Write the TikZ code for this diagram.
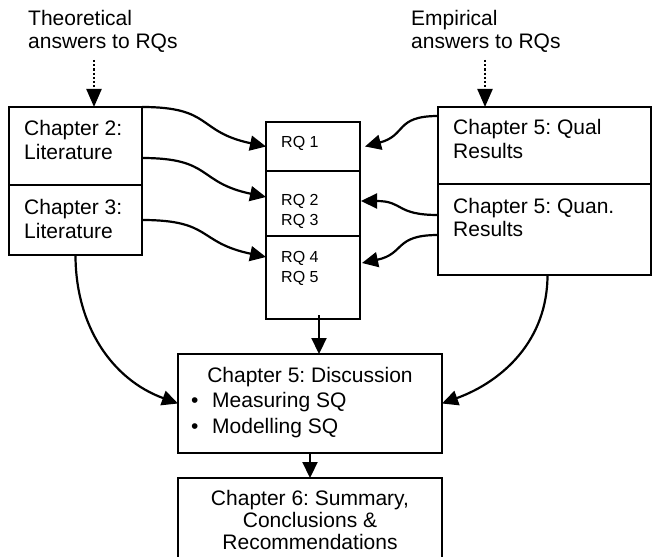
\documentclass[tikz,border=0pt]{standalone}
\usepackage{fontspec}
\setmainfont{Liberation Sans}
\usetikzlibrary{arrows.meta,calc}
\frenchspacing
\begin{document}
\begin{tikzpicture}[x=1pt,y=-1pt,
  box/.style={draw, line width=2.3pt, inner sep=0pt, outer sep=0pt, anchor=north west},
  txt/.style={inner sep=0pt, anchor=base west, font=\fontsize{21}{23}\selectfont},
  ctxt/.style={inner sep=0pt, anchor=base, font=\fontsize{21}{23}\selectfont},
  rqtxt/.style={inner sep=0pt, anchor=base west, font=\fontsize{16}{19}\selectfont},
  arr/.style={line width=2.2pt, -{Triangle[length=16pt,width=15pt]}},
  dotarr/.style={line width=2.2pt, dotted, -{Triangle[length=18pt,width=15pt]}}]
\clip (0,0) rectangle (652,556);
% boxes
\node[box, minimum width=133pt, minimum height=78pt] (ch2) at (9,107) {};
\node[box, minimum width=133pt, minimum height=70pt] (ch3) at (9,185) {};
\node[box, minimum width=94pt, minimum height=49pt] (rq1) at (266,122) {};
\node[box, minimum width=94pt, minimum height=65pt] (rq23) at (266,171) {};
\node[box, minimum width=94pt, minimum height=83pt] (rq45) at (266,236) {};
\node[box, minimum width=213pt, minimum height=77pt] (qual) at (438,107) {};
\node[box, minimum width=213pt, minimum height=91pt] (quan) at (438,184) {};
\node[box, minimum width=264pt, minimum height=99pt] (disc) at (178,354) {};
\node[box, minimum width=264pt, minimum height=90pt] (summ) at (178,478) {};
% texts
\node[txt] (th1) at (28,26) {Theoretical};
\node[txt] (th2) at (28,49) {answers to RQs};
\node[txt] (em1) at (411,26) {Empirical};
\node[txt] (em2) at (411,49) {answers to RQs};
\node[txt] (c2a) at (24,136) {Chapter 2:};
\node[txt] (c2b) at (24,159) {Literature};
\node[txt] (c3a) at (24,214) {Chapter 3:};
\node[txt] (c3b) at (24,238) {Literature};
\node[txt] (qa) at (453,135) {Chapter 5: Qual};
\node[txt] (qb) at (453,158) {Results};
\node[txt] (na) at (453,213) {Chapter 5: Quan.};
\node[txt] (nb) at (453,236) {Results};
\node[rqtxt] (r1) at (281,147) {RQ 1};
\node[rqtxt] (r2) at (281,205) {RQ 2};
\node[rqtxt] (r3) at (281,225) {RQ 3};
\node[rqtxt] (r4) at (281,262) {RQ 4};
\node[rqtxt] (r5) at (281,282) {RQ 5};
\node[ctxt] (d1) at (310,382) {Chapter 5: Discussion};
\node[txt] (b1) at (191,407) {\textbullet};
\node[txt] (d2) at (212,407) {Measuring SQ};
\node[txt] (b2) at (191,433) {\textbullet};
\node[txt] (d3) at (212,433) {Modelling SQ};
\node[ctxt] (s1) at (310,505) {Chapter 6: Summary,};
\node[ctxt] (s2) at (310,527) {Conclusions \&};
\node[ctxt] (s3) at (310,549) {Recommendations};
% dotted arrows
\coordinate (thd) at (94,60);
\coordinate (emd) at (485,60);
\draw[dotarr] (thd) -- (thd |- ch2.north);
\draw[dotarr] (emd) -- (emd |- qual.north);
% left arrows
\draw[arr] (ch2.north east) to[out=0,in=168,looseness=1.4] (rq1.west);
\draw[arr] ([yshift=-12pt]ch2.east) to[out=0,in=168,looseness=1.4] ([yshift=6.5pt]rq23.west);
\draw[arr] (ch3.east) to[out=0,in=168,looseness=1.4] ([yshift=20.5pt]rq45.west);
% right arrows
\draw[arr] ([yshift=-9pt]qual.north west) to[out=180,in=15,looseness=1.4] ([xshift=5pt]rq1.east);
\draw[arr] ([yshift=14.5pt]quan.west) to[out=180,in=0,looseness=1.4] ([xshift=1pt,yshift=2.5pt]rq23.east);
\draw[arr] ([yshift=-5.5pt]quan.west) to[out=180,in=12,looseness=1.4] ([xshift=2pt,yshift=14.5pt]rq45.east);
% down arrows
\coordinate (rqout) at ($(rq45.south)+(6,-4)$);
\draw[arr] (rqout) -- (rqout |- disc.north);
\draw[arr] (disc.south) -- (summ.north);
% big curves
\draw[arr] (ch3.south) to[out=-90,in=160] (disc.west);
\draw[arr] ([xshift=3pt]quan.south) to[out=-90,in=20] (disc.east);
\end{tikzpicture}
\end{document}
